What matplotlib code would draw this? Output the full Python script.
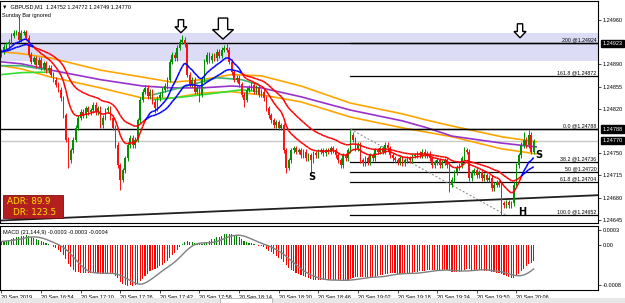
import matplotlib
matplotlib.use("Agg")
import matplotlib.pyplot as plt
import matplotlib.transforms as mtransforms
from matplotlib.collections import LineCollection
from matplotlib.patches import Polygon, Rectangle

# ---------------- data ----------------
closes = [
    1.24910, 1.24918, 1.24922, 1.24926, 1.24935, 1.24940, 1.24941, 1.24929, 1.24940, 1.24941,
    1.24932, 1.24905, 1.24894, 1.24900, 1.24889, 1.24897, 1.24885, 1.24892, 1.24881, 1.24885,
    1.24874, 1.24866, 1.24858, 1.24850, 1.24837, 1.24810, 1.24771, 1.24739, 1.24755, 1.24771,
    1.24790, 1.24806, 1.24815, 1.24810, 1.24821, 1.24815, 1.24818, 1.24826, 1.24815, 1.24821,
    1.24794, 1.24806, 1.24818, 1.24821, 1.24806, 1.24790, 1.24763, 1.24731, 1.24708, 1.24723,
    1.24742, 1.24763, 1.24774, 1.24763, 1.24771, 1.24802, 1.24834, 1.24847, 1.24853, 1.24840,
    1.24847, 1.24831, 1.24821, 1.24837, 1.24842, 1.24850, 1.24856, 1.24866, 1.24894, 1.24905,
    1.24900, 1.24916, 1.24926, 1.24929, 1.24922, 1.24874, 1.24858, 1.24866, 1.24847, 1.24853,
    1.24842, 1.24866, 1.24894, 1.24905, 1.24897, 1.24904, 1.24900, 1.24910, 1.24904, 1.24913,
    1.24916, 1.24913, 1.24894, 1.24878, 1.24866, 1.24869, 1.24859, 1.24842, 1.24834, 1.24850,
    1.24853, 1.24858, 1.24847, 1.24853, 1.24842, 1.24847, 1.24837, 1.24821, 1.24810, 1.24802,
    1.24794, 1.24799, 1.24790, 1.24794, 1.24755, 1.24727, 1.24739, 1.24755, 1.24758, 1.24752,
    1.24755, 1.24747, 1.24752, 1.24742, 1.24747, 1.24739, 1.24750, 1.24747, 1.24752, 1.24755,
    1.24750, 1.24755, 1.24752, 1.24758, 1.24755, 1.24747, 1.24739, 1.24731, 1.24747, 1.24742,
    1.24755, 1.24779, 1.24771, 1.24758, 1.24763, 1.24739, 1.24734, 1.24742, 1.24736, 1.24747,
    1.24742, 1.24755, 1.24752, 1.24758, 1.24752, 1.24763, 1.24758, 1.24747, 1.24742, 1.24739,
    1.24736, 1.24742, 1.24734, 1.24739, 1.24742, 1.24739, 1.24746, 1.24747, 1.24750, 1.24747,
    1.24752, 1.24747, 1.24749, 1.24742, 1.24731, 1.24736, 1.24739, 1.24731, 1.24736, 1.24739,
    1.24731, 1.24700, 1.24708, 1.24720, 1.24727, 1.24731, 1.24742, 1.24755, 1.24752, 1.24711,
    1.24720, 1.24723, 1.24715, 1.24720, 1.24711, 1.24715, 1.24708, 1.24711, 1.24695, 1.24700,
    1.24704, 1.24700, 1.24671, 1.24668, 1.24673, 1.24668, 1.24671, 1.24700, 1.24731, 1.24747,
    1.24763, 1.24771, 1.24763, 1.24779, 1.24752, 1.24770,
]
first_open = 1.24905
high_marks = {7: 1.24968, 73: 1.24937, 91: 1.24924, 141: 1.24787, 187: 1.24760,
              211: 1.24783, 213: 1.24786, 215: 1.24772}
low_marks = {27: 1.24727, 48: 1.24692, 62: 1.24813, 80: 1.24831, 98: 1.24823,
             115: 1.24719, 125: 1.24719, 181: 1.24689, 202: 1.24652, 215: 1.24749}

time_labels = ["20 Sep 2019", "20 Sep 16:54", "20 Sep 17:10", "20 Sep 17:26", "20 Sep 17:42",
               "20 Sep 17:58", "20 Sep 18:14", "20 Sep 18:30", "20 Sep 18:46", "20 Sep 19:02",
               "20 Sep 19:18", "20 Sep 19:34", "20 Sep 19:50", "20 Sep 20:06"]

# slow moving averages (read at selected bars)
ma_idx = [0, 8, 20, 40, 57, 69, 81, 93, 105, 121, 141, 162, 172, 182, 202, 216]
purple_ma = [1.24894, 1.24891, 1.24881, 1.24866, 1.24856, 1.24853, 1.24853, 1.24856,
             1.24853, 1.24839, 1.24818, 1.24801, 1.24790, 1.24777, 1.24766, 1.24760]
orange_up = [1.24910, 1.24907, 1.24900, 1.24881, 1.24870, 1.24862, 1.24866, 1.24874,
             1.24872, 1.24856, 1.24829, 1.24812, 1.24802, 1.24793, 1.24776, 1.24768]
orange_dn = [1.24888, 1.24883, 1.24870, 1.24853, 1.24837, 1.24837, 1.24845, 1.24847,
             1.24842, 1.24831, 1.24807, 1.24790, 1.24783, 1.24776, 1.24757, 1.24749]
green_idx_a = [0, 8, 19]
green_dark_a = [1.24888, 1.24888, 1.24881]
green_lime_a = [1.24874, 1.24877, 1.24878]
green_idx_b = [61, 74, 87, 97, 104]
green_dark_b = [1.24842, 1.24855, 1.24869, 1.24866, 1.24858]
green_lime_b = [1.24834, 1.24839, 1.24845, 1.24850, 1.24847]

# horizontal levels / drawings
line_levels = [1.24923, 1.24788]
current_price = 1.24770
band = (1.24895, 1.24939)
fib_start = 141
fib_levels = [("200", 1.24924), ("161.8", 1.24872), ("0.0", 1.24788), ("38.2", 1.24736),
              ("50", 1.24720), ("61.8", 1.24704), ("100.0", 1.24652)]
fib_diag = ((141, 1.24788), (204, 1.24652))
trend_line = ((0, 1.24644), (242, 1.24684))
price_ticks = [1.24960, 1.24890, 1.24855, 1.24820, 1.24750, 1.24715, 1.24680, 1.24645]
boxed_prices = [1.24923, 1.24788, 1.24770]
arrows = [(72.5, 1.24940, 12, 13), (89.5, 1.24930, 21, 21), (209.5, 1.24932, 12, 14)]
marks = [("S", 125.5, 1.24712), ("S", 217.0, 1.24747), ("H", 210.5, 1.24657)]
macd_ticks = [0.0003, 0.0, -0.0008]
macd_ticklabels = ["0.0003", "0.00", "-0.0008"]
macd_seed_fast = 1.24907
macd_seed_slow = 1.24900

# ---------------- calculations ----------------
n = len(closes)
opens = [first_open] + closes[:-1]
wick = 0.00004
highs = [high_marks.get(i, max(o, c) + wick) for i, (o, c) in enumerate(zip(opens, closes))]
lows = [low_marks.get(i, min(o, c) - wick) for i, (o, c) in enumerate(zip(opens, closes))]


def ema(vals, span, seed=None):
    a = 2.0 / (span + 1)
    e = vals[0] if seed is None else seed
    out = []
    for v in vals:
        e = e + a * (v - e)
        out.append(e)
    return out


fast = ema(closes, 12)
slow = ema(closes, 30)
m_fast = ema(closes, 21, seed=macd_seed_fast)
m_slow = ema(closes, 144, seed=macd_seed_slow)
macd = [f - s for f, s in zip(m_fast, m_slow)]
signal = []
for i in range(n):
    w = macd[max(0, i - 8):i + 1]
    signal.append(sum(w) / len(w))

# ---------------- figure ----------------
W, H = 625, 303
fig = plt.figure(figsize=(W / 100, H / 100), dpi=100)
fig.patch.set_facecolor("white")
FONT = ["Liberation Sans", "DejaVu Sans"]
plt.rcParams["font.family"] = FONT

ax = fig.add_axes([0, (H - 223) / H, 598 / W, 222 / H])
axm = fig.add_axes([0, (H - 290) / H, 598 / W, 64 / H])
xlim = (-0.6, 241.0)
ax.set_xlim(*xlim)
ax.set_ylim(1.24640, 1.24990)
axm.set_xlim(*xlim)
axm.set_ylim(-0.0009, 0.00038)

for a in (ax, axm):
    for s in a.spines.values():
        s.set_color("black")
        s.set_linewidth(0.8)
    a.yaxis.tick_right()
    a.tick_params(axis="y", which="both", labelsize=4.0, length=2, width=0.5, pad=1.5,
                  colors="black")

# band and horizontal lines
ax.axhspan(band[0], band[1], color="#dcdcf6", zorder=0, lw=0)
ax.axhline(current_price, color="#c8c8c8", lw=1.0, zorder=1)

# slow MAs
ax.plot(ma_idx, orange_up, color="#ffa500", lw=1.2, zorder=2)
ax.plot(ma_idx, orange_dn, color="#ffa500", lw=1.2, zorder=2)
ax.plot(ma_idx, purple_ma, color="#9932cc", lw=1.2, zorder=2)
ax.plot(green_idx_a, green_dark_a, color="#3cb371", lw=1.2, zorder=2)
ax.plot(green_idx_a, green_lime_a, color="#32e032", lw=1.2, zorder=2)
ax.plot(green_idx_b, green_dark_b, color="#3cb371", lw=1.2, zorder=2)
ax.plot(green_idx_b, green_lime_b, color="#32e032", lw=1.2, zorder=2)

for lv in line_levels:
    ax.axhline(lv, color="black", lw=1.0, zorder=3)

# fib
for name, lv in fib_levels:
    ax.plot([fib_start, xlim[1]], [lv, lv], color="black", lw=0.9, zorder=3)
    ax.text(xlim[1] - 0.6, lv + 0.000012, f"{name} @{lv:.5f}", fontsize=3.8,
            ha="right", va="bottom", color="black", zorder=6)
ax.plot([fib_diag[0][0], fib_diag[1][0]], [fib_diag[0][1], fib_diag[1][1]],
        color="#808080", lw=0.7, ls=(0, (2, 2)), zorder=3)
ax.plot([trend_line[0][0], trend_line[1][0]], [trend_line[0][1], trend_line[1][1]],
        color="#202020", lw=1.3, zorder=3)

# candles
for i in range(n):
    o, c = opens[i], closes[i]
    col = "#009000" if c >= o else "#ff1010"
    ax.vlines(i, lows[i], highs[i], color=col, lw=0.7, zorder=4)
    hgt = abs(c - o) if abs(c - o) > 0.000015 else 0.000015
    ax.bar(i, hgt, bottom=min(o, c), width=0.65, color=col, lw=0, zorder=4)

# fast/slow trend lines colored by direction
segs_f, segs_s, cols = [], [], []
for i in range(n - 1):
    segs_f.append([(i, fast[i]), (i + 1, fast[i + 1])])
    segs_s.append([(i, slow[i]), (i + 1, slow[i + 1])])
    cols.append("#0000ff" if fast[i + 1] > slow[i + 1] else "#ff0000")
ax.add_collection(LineCollection(segs_f, colors=cols, lw=1.1, zorder=5))
ax.add_collection(LineCollection(segs_s, colors=cols, lw=1.1, zorder=5))

# arrows
for xi, pr, wpx, hpx in arrows:
    w, h = wpx / 100, hpx / 100
    tr = fig.dpi_scale_trans + mtransforms.ScaledTranslation(xi, pr, ax.transData)
    verts = [(0, 0), (-w / 2, h * 0.45), (-w / 4.5, h * 0.45), (-w / 4.5, h),
             (w / 4.5, h), (w / 4.5, h * 0.45), (w / 2, h * 0.45)]
    ax.add_patch(Polygon(verts, closed=True, facecolor="white", edgecolor="black",
                         lw=1.0, transform=tr, zorder=7, clip_on=False))

for t, xi, pr in marks:
    ax.text(xi, pr, t, fontsize=7, fontweight="bold", family=["DejaVu Sans"],
            ha="center", va="center", color="black", zorder=7)

# header texts
ax.text(0.003, 0.985, "\u25BC  GBPUSD,M1  1.24752 1.24772 1.24749 1.24770",
        transform=ax.transAxes, fontsize=4.0, va="top", ha="left",
        family=["Liberation Sans", "DejaVu Sans"])
ax.text(0.003, 0.945, "Sunday Bar ignored", transform=ax.transAxes, fontsize=4.0,
        va="top", ha="left")

# ADR box
ax.add_patch(Rectangle((3 / 598, (223 - 218) / 222), 60 / 598, 23 / 222,
                       transform=ax.transAxes, facecolor="#b31e1e", edgecolor="#7a1010",
                       lw=0.6, zorder=8))
ax.text(7 / 598, (223 - 201) / 222, "ADR: 89.9", transform=ax.transAxes, fontsize=6.3,
        color="#ffe100", va="center", ha="left", family=["DejaVu Sans"], zorder=9)
ax.text(13 / 598, (223 - 212.5) / 222, "DR: 123.5", transform=ax.transAxes, fontsize=6.3,
        color="#ffe100", va="center", ha="left", family=["DejaVu Sans"], zorder=9)

# price axis
ax.set_yticks(price_ticks)
ax.set_yticklabels([f"{p:.5f}" for p in price_ticks])
ax.set_xticks([])
btr = mtransforms.blended_transform_factory(ax.transAxes, ax.transData)
for p in boxed_prices:
    ax.text(1.008, p, f"{p:.5f}", transform=btr, fontsize=4.0, color="white",
            va="center", ha="left", zorder=9, clip_on=False,
            bbox=dict(boxstyle="square,pad=0.25", facecolor="black", edgecolor="black"))

# MACD
mcols = ["#008000" if v >= 0 else "#ff0000" for v in macd]
axm.bar(range(n), macd, width=0.45, color=mcols, lw=0, zorder=2)
axm.plot(range(n), signal, color="#808080", lw=1.0, zorder=3)
axm.set_yticks(macd_ticks)
axm.set_yticklabels(macd_ticklabels)
axm.text(0.005, 0.93, "MACD (21,144,9) -0.0003 -0.0003 -0.0004", transform=axm.transAxes,
         fontsize=4.0, va="top", ha="left")
tick_idx = list(range(0, 16 * len(time_labels), 16))
axm.set_xticks(tick_idx)
axm.set_xticklabels(time_labels, ha="left")
axm.tick_params(axis="x", labelsize=4.0, length=2, width=0.5, pad=1.5)

# bottom tab strip
fig.add_artist(Rectangle((0, 0), 1, 5 / H, transform=fig.transFigure,
                         facecolor="#e8e8e8", edgecolor="none"))
fig.add_artist(Rectangle((220 / W, 0), 52 / W, 5 / H, transform=fig.transFigure,
                         facecolor="white", edgecolor="#a0a0a0", lw=0.5))

fig.savefig("out.png", dpi=100)
